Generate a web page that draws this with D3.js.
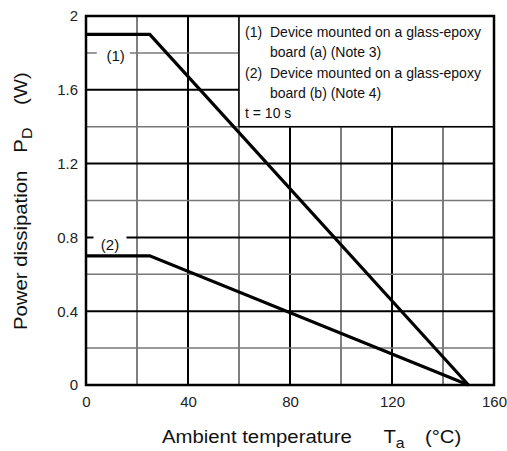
<!DOCTYPE html>
<html>
<head>
<meta charset="utf-8">
<script src="https://cdn.jsdelivr.net/npm/d3@7"></script>
<style>
  body { margin: 0; background: #fff; }
  svg { font-family: "Liberation Sans", Arial, sans-serif; }
</style>
</head>
<body>
<svg id="chart"></svg>
<script>
var xTicks = [0, 40, 80, 120, 160];
var yTicks = [0, 0.4, 0.8, 1.2, 1.6, 2];
var xGrid = [20, 40, 60, 80, 100, 120, 140];
var yGrid = [0.2, 0.4, 0.6, 0.8, 1.0, 1.2, 1.4, 1.6, 1.8];

// derating curves: [Ta, PD]
var curve1 = [[0, 1.9], [25, 1.9], [150, 0]];
var curve2 = [[0, 0.7], [25, 0.7], [150, 0]];

var legendLines = [
  ["(1)", "Device mounted on a glass-epoxy"],
  ["", "board (a) (Note 3)"],
  ["(2)", "Device mounted on a glass-epoxy"],
  ["", "board (b) (Note 4)"],
  ["t = 10 s", ""]
];

var width = 507;
var height = 451;
var margin = { left: 86, right: 13, top: 16, bottom: 66 };

var svg = d3.select("#chart")
  .attr("width", width)
  .attr("height", height);

var xScale = d3.scaleLinear()
  .domain([0, 160])
  .range([margin.left, width - margin.right]);

var yScale = d3.scaleLinear()
  .domain([0, 2])
  .range([height - margin.bottom, margin.top]);

let isMajorX = v => v % 40 === 0;
let isMajorY = v => Math.abs(v / 0.4 - Math.round(v / 0.4)) < 1e-6;

// grid
svg.append("g")
  .selectAll("line")
  .data(xGrid)
  .join("line")
  .attr("x1", d => xScale(d)).attr("x2", d => xScale(d))
  .attr("y1", yScale(0)).attr("y2", yScale(2))
  .attr("stroke", d => isMajorX(d) ? "#000" : "#555")
  .attr("stroke-width", d => isMajorX(d) ? 2 : 1.5);

svg.append("g")
  .selectAll("line")
  .data(yGrid)
  .join("line")
  .attr("x1", xScale(0)).attr("x2", xScale(160))
  .attr("y1", d => yScale(d)).attr("y2", d => yScale(d))
  .attr("stroke", d => isMajorY(d) ? "#000" : "#777")
  .attr("stroke-width", d => isMajorY(d) ? 2 : 1.5);

// legend box
svg.append("rect")
  .attr("x", xScale(60))
  .attr("y", yScale(2))
  .attr("width", xScale(160) - xScale(60))
  .attr("height", yScale(1.4) - yScale(2))
  .attr("fill", "#fff")
  .attr("stroke", "#000")
  .attr("stroke-width", 1.5);

var legend = svg.append("g")
  .attr("font-size", 14)
  .attr("fill", "#111");

legend.selectAll("text.num")
  .data(legendLines)
  .join("text")
  .attr("class", "num")
  .attr("x", xScale(60) + 6)
  .attr("y", (d, i) => yScale(2) + 21 + i * 20.3)
  .text(d => d[0]);

legend.selectAll("text.desc")
  .data(legendLines)
  .join("text")
  .attr("class", "desc")
  .attr("x", xScale(60) + 31)
  .attr("y", (d, i) => yScale(2) + 21 + i * 20.3)
  .text(d => d[1]);

// curve labels with white gap in the gridline
var curveLabels = [
  { text: "(1)", x: 11.6, gap: 10.7, y: 1.8, dy: 8 },
  { text: "(2)", x: 9.4, gap: 9.4, y: 0.8, dy: 12.5 }
];

svg.append("g")
  .selectAll("rect")
  .data(curveLabels)
  .join("rect")
  .attr("x", d => xScale(d.gap) - 16.5)
  .attr("y", d => yScale(d.y) - 3)
  .attr("width", 33)
  .attr("height", 6)
  .attr("fill", "#fff");

svg.append("g")
  .selectAll("text")
  .data(curveLabels)
  .join("text")
  .attr("x", d => xScale(d.x))
  .attr("y", d => yScale(d.y) + d.dy)
  .attr("text-anchor", "middle")
  .attr("font-size", 15)
  .attr("fill", "#111")
  .text(d => d.text);

// curves
var line = d3.line()
  .x(d => xScale(d[0]))
  .y(d => yScale(d[1]));

svg.append("g")
  .selectAll("path")
  .data([curve1, curve2])
  .join("path")
  .attr("d", line)
  .attr("fill", "none")
  .attr("stroke", "#000")
  .attr("stroke-width", 3.2)
  .attr("stroke-linejoin", "miter");

// frame
svg.append("rect")
  .attr("x", xScale(0))
  .attr("y", yScale(2))
  .attr("width", xScale(160) - xScale(0))
  .attr("height", yScale(0) - yScale(2))
  .attr("fill", "none")
  .attr("stroke", "#000")
  .attr("stroke-width", 2.5);

// axes (labels only)
var xAxis = d3.axisBottom(xScale)
  .tickValues(xTicks)
  .tickSize(0)
  .tickPadding(11)
  .tickFormat(d3.format("d"));

svg.append("g")
  .attr("transform", `translate(0, ${yScale(0)})`)
  .call(xAxis)
  .attr("font-family", "")
  .attr("font-size", 15)
  .call(g => g.select(".domain").remove())
  .selectAll("text").attr("fill", "#222");

var yAxis = d3.axisLeft(yScale)
  .tickValues(yTicks)
  .tickSize(0)
  .tickPadding(8)
  .tickFormat(d => d === 0 || d === 2 ? d3.format("d")(d) : d3.format(".1f")(d));

svg.append("g")
  .attr("transform", `translate(${xScale(0)}, 0)`)
  .call(yAxis)
  .attr("font-family", "")
  .attr("font-size", 15)
  .call(g => g.select(".domain").remove())
  .selectAll("text").attr("fill", "#222");

// axis titles (slightly stretched like the original typeface)
var xTitle = svg.append("g")
  .attr("transform", "translate(162, 443) scale(1.13, 1)")
  .append("text")
  .attr("font-size", 18)
  .attr("fill", "#111");
xTitle.append("tspan").text("Ambient temperature");
xTitle.append("tspan").attr("dx", 28).text("T");
xTitle.append("tspan").attr("dy", 5).attr("font-size", 14).text("a");
xTitle.append("tspan").attr("dx", 18).attr("dy", -5).text("(°C)");

var yTitle = svg.append("g")
  .attr("transform", "translate(27, 330) rotate(-90) scale(1.13, 1)")
  .append("text")
  .attr("font-size", 18)
  .attr("fill", "#111");
yTitle.append("tspan").text("Power dissipation");
yTitle.append("tspan").attr("dx", 16).text("P");
yTitle.append("tspan").attr("dy", 5).attr("font-size", 14).text("D");
yTitle.append("tspan").attr("dx", 20).attr("dy", -5).text("(W)");
</script>
</body>
</html>
